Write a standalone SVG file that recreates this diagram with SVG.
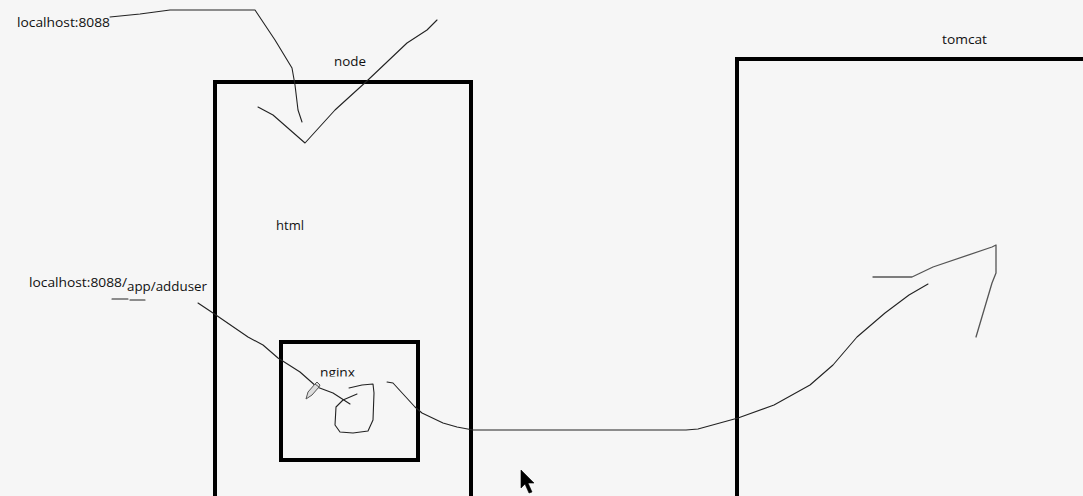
<svg xmlns="http://www.w3.org/2000/svg" width="1083" height="496" viewBox="0 0 1083 496">
<style>
.box{fill:none;stroke:#000;stroke-width:4}
.lbl{font-family:"Open Sans","Liberation Sans",Arial,sans-serif;font-size:13.5px;fill:#111}
.ink{fill:none;stroke:#222;stroke-width:1.1;stroke-linejoin:round;stroke-linecap:round}
.ink2{fill:none;stroke:#555;stroke-width:1.3;stroke-linejoin:round;stroke-linecap:round}
</style>
<defs>
<clipPath id="nginxclip"><rect x="300" y="360" width="80" height="16.5"/></clipPath>
</defs>
<rect width="1083" height="496" fill="#f6f6f6"/>
<g id="node">
<rect class="box" x="215" y="82" width="256" height="440"/>
<text class="lbl" x="334" y="66" textLength="32" lengthAdjust="spacingAndGlyphs">node</text>
<text class="lbl" x="276" y="230" textLength="28" lengthAdjust="spacingAndGlyphs">html</text>
</g>
<g id="nginx">
<rect class="box" x="281" y="342" width="137" height="118"/>
<text class="lbl" x="320" y="377" textLength="35" lengthAdjust="spacingAndGlyphs" clip-path="url(#nginxclip)">nginx</text>
</g>
<g id="tomcat">
<rect class="box" x="737" y="59" width="400" height="470"/>
<text class="lbl" x="942" y="44" textLength="45" lengthAdjust="spacingAndGlyphs">tomcat</text>
</g>
<g id="url1">
<text class="lbl" x="17" y="27" textLength="93" lengthAdjust="spacingAndGlyphs">localhost:8088</text>
</g>
<g id="url2">
<text class="lbl" x="29" y="287" textLength="98" lengthAdjust="spacingAndGlyphs">localhost:8088/</text>
<text class="lbl" x="127" y="291" textLength="80" lengthAdjust="spacingAndGlyphs">app/adduser</text>
</g>
<g id="connectors">
<path class="ink" d="M110,17 L140,14 L170,10 L255,10 L275,40 L292,68 L295,85 L298,110 L302,122"/>
<path class="ink" d="M258,107 L273,115 L305,143 L335,110 L368,80 L407,43 L427,30 L437,20"/>
<path class="ink" d="M112,299 L128,299 M130,300 L145,300"/>
<path class="ink" d="M198,303 L213,313 L248,337 L263,345 L278,358 L300,372 L317,387 L325,390 L333,393 L350,404"/>
<path class="ink" d="M349,388 L362,385 L373,384 L374,393 L373,420 L368,431 L353,433 L340,432 L335,425 L336,407 L343,400 L357,394"/>
<path class="ink" d="M387,382 L393,383 L415,407 L422,413 L443,423 L457,427 L473,430 L686,430 L698,429 L738,418 L774,405 L810,385 L833,365 L857,337 L885,313 L909,295 L928,284"/>
<path class="ink2" d="M873,277 L912,277 L933,267 L992,247 L996,245 L996,273 L992,283 L976,337"/>
</g>
<g id="pencil">
<path d="M306,399 L308,392 L315,384 L319,387 L312,395 Z M315,384 L317,382 L320,385 L319,387" fill="#ddd" stroke="#555" stroke-width="1"/>
</g>
<g id="cursor">
<path d="M521,470 L521,488 L525,484 L529,493 L532,492 L528,483 L534,483 Z" fill="#000" stroke="#000" stroke-width="0.6"/>
</g>
</svg>
